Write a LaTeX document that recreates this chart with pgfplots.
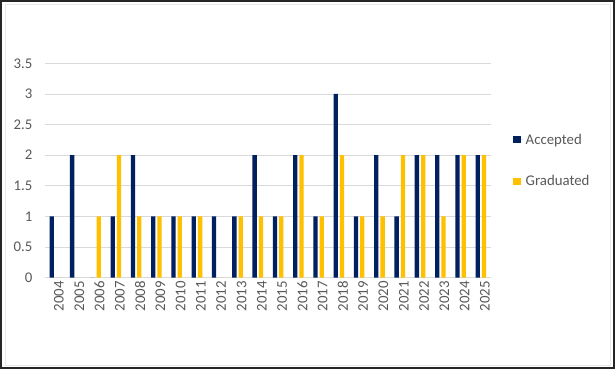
\documentclass[border=0pt]{standalone}
\usepackage{pgfplots}
\pgfplotsset{compat=1.18}
\usepackage{fontspec}
\setmainfont{Carlito}
\definecolor{navy}{RGB}{0,32,96}
\definecolor{gold}{RGB}{255,192,0}
\definecolor{txt}{RGB}{89,89,89}
\definecolor{grd}{RGB}{217,217,217}
\begin{document}
\begin{tikzpicture}[x=1bp,y=1bp]
\fill[white] (0,0) rectangle (615,369);
\draw[grd!60,line width=0.6bp] (5,4) rectangle (610,365);
\draw[black!85,line width=1.6bp] (0.8,0.8) rectangle (614.2,368.2);
\begin{axis}[
  at={(44.85bp,91.3bp)}, anchor=south west,
  scale only axis, width=446.15bp, height=214.4bp,
  ybar=2bp, bar width=4.3bp,
  xmin=-0.5, xmax=21.5, ymin=0, ymax=3.5,
  xtick={0,...,21},
  xticklabels={2004,2005,2006,2007,2008,2009,2010,2011,2012,2013,2014,2015,2016,2017,2018,2019,2020,2021,2022,2023,2024,2025},
  ytick={0,0.5,1,1.5,2,2.5,3,3.5},
  yticklabels={0,0.5,1,1.5,2,2.5,3,3.5},
  /pgf/number format/assume math mode=true,
  ticklabel style={font=\fontsize{14.8bp}{16bp}\selectfont, text=txt},
  xticklabel style={rotate=90, anchor=east},
  major tick length=0pt,
  ymajorgrids, grid style={grd, line width=0.75bp},
  axis x line*=bottom, axis y line*=left,
  x axis line style={grd, line width=0.75bp, -},
  y axis line style={draw=none},
  xtick pos=bottom, ytick pos=left,
  yticklabel style={xshift=-9bp},
  xticklabel style={yshift=-4bp},
  legend style={at={(1.0493,0.5466)}, anchor=west, draw=none, fill=none,
    inner sep=0pt, font=\fontsize{14.8bp}{16bp}\selectfont, text=txt,
    row sep=25bp, nodes={inner sep=2.5bp}},
  legend cell align=left,
  legend image code/.code={\fill[#1] (0bp,-3.6bp) rectangle (7.4bp,3.8bp);
    \path (0bp,0bp) -- (10bp,0bp);},
]
\addplot[fill=navy, draw=none] coordinates {
(0,1) (1,2) (2,0) (3,1) (4,2) (5,1) (6,1) (7,1) (8,1) (9,1) (10,2)
(11,1) (12,2) (13,1) (14,3) (15,1) (16,2) (17,1) (18,2) (19,2) (20,2) (21,2)};
\addplot[fill=gold, draw=none] coordinates {
(0,0) (1,0) (2,1) (3,2) (4,1) (5,1) (6,1) (7,1) (8,0) (9,1) (10,1)
(11,1) (12,2) (13,1) (14,2) (15,1) (16,1) (17,2) (18,2) (19,1) (20,2) (21,2)};
\legend{Accepted,Graduated}
\end{axis}
\end{tikzpicture}
\end{document}
